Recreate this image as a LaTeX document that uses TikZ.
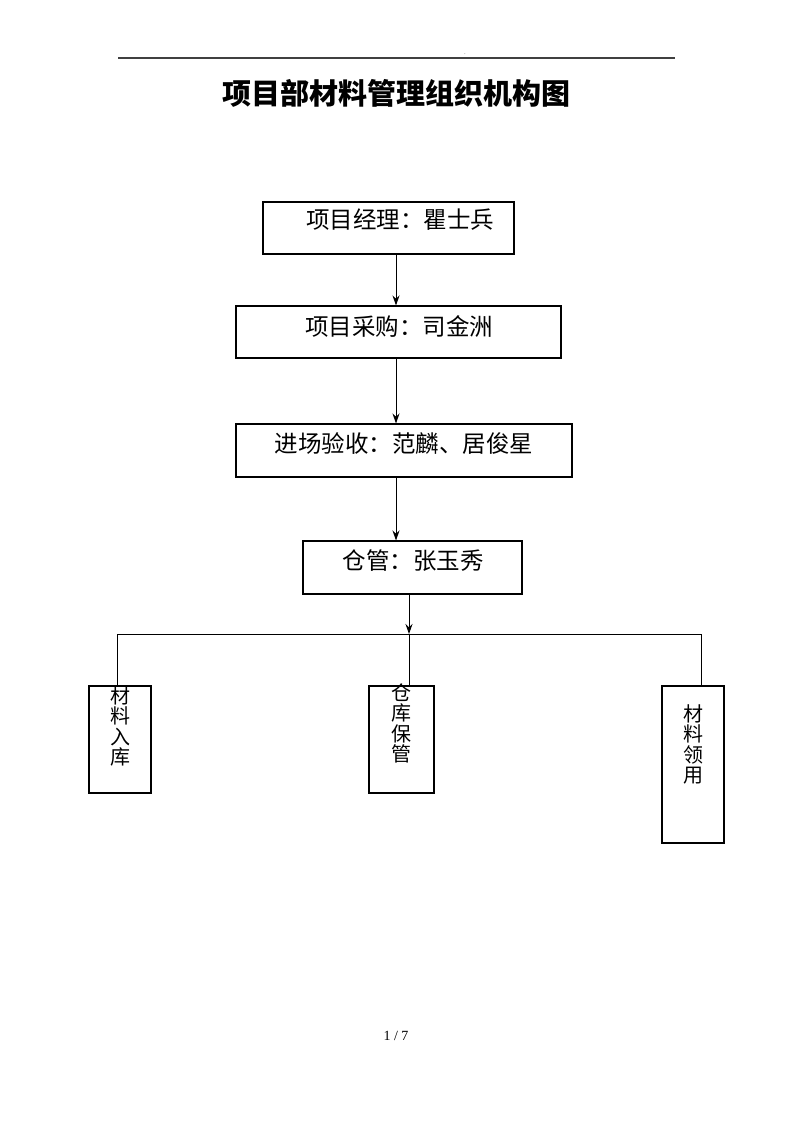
\documentclass[tikz,border=0pt]{standalone}
\usepackage{fontspec}
\setmainfont{Liberation Serif}
\newfontfamily\cjk{Noto Sans CJK SC}
\usetikzlibrary{arrows.meta}
\begin{document}
\begin{tikzpicture}[x=1pt,y=-1pt,
  box/.style={draw,line width=1.1pt,inner sep=0pt,rectangle},
  txt/.style={font=\cjk\fontsize{23.5}{25}\selectfont,inner sep=0pt},
  vtxt/.style={font=\cjk\fontsize{20}{20.5}\selectfont,inner sep=0pt,align=center,anchor=north},
  conn/.style={line width=1pt},
  arr/.style={conn,-{Stealth[length=10pt,width=7pt]}}]
\useasboundingbox (0,0) rectangle (793,1122);
\fill[white] (0,0) rectangle (793,1122);
% header
\coordinate (hl) at (118,58);
\coordinate (hr) at (675,58);
\draw[line width=1.4pt,black!75] (hl) -- (hr);
\node[inner sep=0pt,font=\tiny] (dot) at (465,54) {.};
\node[font=\cjk\bfseries\fontsize{29}{31}\selectfont,inner sep=0pt] (title) at (396,93) {项目部材料管理组织机构图};
% boxes
\node[box,minimum width=251pt,minimum height=52pt] (b1) at (388.5,228) {};
\node[txt] (t1) at (400,220) {项目经理：瞿士兵};
\node[box,minimum width=325pt,minimum height=52pt] (b2) at (398.5,332) {};
\node[txt] (t2) at (399,326) {项目采购：司金洲};
\node[box,minimum width=336pt,minimum height=53pt] (b3) at (404,450.5) {};
\node[txt] (t3) at (404,443) {进场验收：范麟、居俊星};
\node[box,minimum width=219pt,minimum height=53pt] (b4) at (412.5,567.5) {};
\node[txt] (t4) at (413,561) {仓管：张玉秀};
% bottom boxes
\node[box,minimum width=62pt,minimum height=107pt] (ba) at (120,739.5) {};
\node[vtxt] (ta) at (120,686) {材\\料\\入\\库};
\node[box,minimum width=65pt,minimum height=107pt] (bb) at (401.5,739.5) {};
\node[vtxt] (tb) at (401,683) {仓\\库\\保\\管};
\node[box,minimum width=62pt,minimum height=157pt] (bc) at (693,764.5) {};
\node[vtxt] (tc) at (693,704) {材\\料\\领\\用};
% connectors
\draw[arr] (b1.south -| 396,0) -- (b2.north -| 396,0);
\draw[arr] (b2.south -| 396,0) -- (b3.north -| 396,0);
\draw[arr] (b3.south -| 396,0) -- (b4.north -| 396,0);
\coordinate (bus) at (409,634);
\draw[arr] (b4.south -| bus) -- (bus);
\coordinate (busl) at (117,634);
\coordinate (busr) at (701,634);
\draw[conn] (busl) -- (busr);
\draw[conn] (busl) -- (ba.north -| busl);
\draw[conn] (bus) -- (bb.north -| bus);
\draw[conn] (busr) -- (bc.north -| busr);
% page number
\node[font=\fontsize{14}{16}\selectfont,inner sep=0pt] (pg) at (396,1036) {1 / 7};
\end{tikzpicture}
\end{document}
